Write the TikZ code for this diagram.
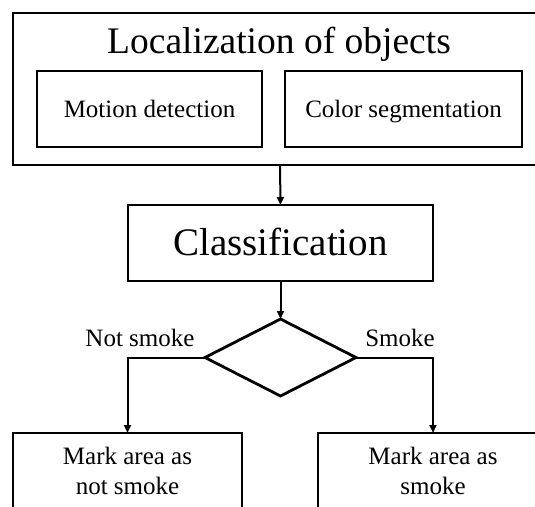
\documentclass[tikz,border=0pt]{standalone}
\usepackage{fontspec}
\setmainfont{Liberation Serif}
\usetikzlibrary{shapes.geometric,arrows.meta}
\tikzset{
  box/.style={draw, line width=2.8pt, rectangle, inner sep=0pt, outer sep=0pt, align=center},
  smalltxt/.style={font=\fontsize{25}{30}\selectfont},
  bigtxt/.style={font=\fontsize{39}{44}\selectfont},
  onesmall/.style={text height=16.5pt, text depth=0pt},
  onebig/.style={text height=25.8pt, text depth=0pt},
  arr/.style={draw, line width=2pt, -{Triangle[length=8pt,width=7pt]}},
  lbl/.style={inner sep=0pt, outer sep=0pt, smalltxt},
}
\begin{document}
\begin{tikzpicture}[x=1pt,y=-1pt]
\useasboundingbox (0,0) rectangle (535,506);
\clip (0,0) rectangle (535,506);
\fill[white] (0,0) rectangle (535,506);
% outer localization box
\node[box, minimum width=534pt, minimum height=152pt] (outer) at (280,89) {};
\node[inner sep=0pt, anchor=base, font=\fontsize{37.5}{42}\selectfont] (title) at (279,53) {Localization of objects};
\node[box, smalltxt, onesmall, minimum width=225pt, minimum height=76pt] (motion) at (149.5,109) {Motion detection};
\node[box, smalltxt, onesmall, minimum width=237pt, minimum height=76pt] (color) at (403.5,109) {Color segmentation};
% classification
\node[box, bigtxt, onebig, minimum width=305pt, minimum height=76pt] (cls) at (280.5,243) {Classification};
% decision diamond
\node[draw, line width=2.8pt, diamond, inner sep=0pt, outer sep=0pt, minimum width=151pt, minimum height=77pt] (dia) at (280.5,357.5) {};
% result boxes
\node[box, smalltxt, minimum width=229pt, minimum height=76pt] (lbox) at (127.5,471) {Mark area as\\not smoke};
\node[box, smalltxt, minimum width=230pt, minimum height=76pt] (rbox) at (433,471) {Mark area as\\smoke};
% labels
\node[lbl, anchor=base] (notsmoke) at (140,346) {Not smoke};
\node[lbl, anchor=base] (smoke) at (400,346) {Smoke};
% connectors
\draw[arr] (outer.south) -- (cls.north);
\draw[arr] (cls.south) -- (dia.north);
\draw[arr] (dia.west) -| (lbox.north);
\draw[arr] (dia.east) -| (rbox.north);
\end{tikzpicture}
\end{document}
